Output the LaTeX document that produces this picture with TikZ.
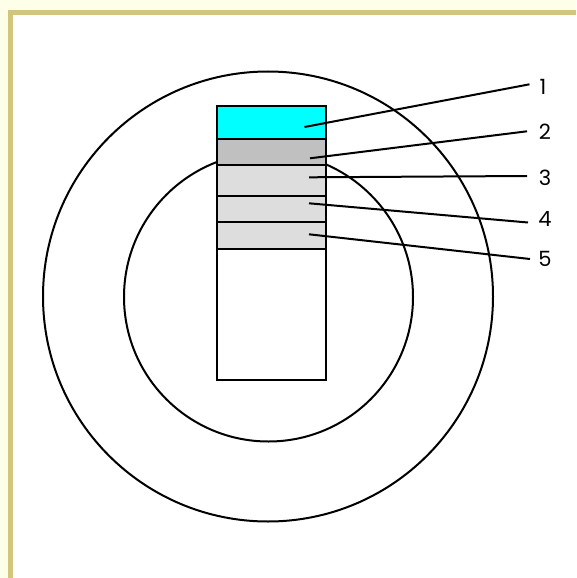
\documentclass[tikz,border=0pt]{standalone}
\usepackage{fontspec}
\setmainfont{Poppins}
\definecolor{bgyel}{HTML}{FDFFE8}
\definecolor{olive}{HTML}{D2C57D}
\definecolor{layerg}{HTML}{C0C0C0}
\definecolor{layerl}{HTML}{DDDDDD}
\definecolor{aqua}{HTML}{00FFFF}
\begin{document}
\begin{tikzpicture}[x=1pt,y=-1pt,
  ring/.style={draw=black,line width=2pt},
  layer/.style={minimum width=109pt,inner sep=0pt,outer sep=0pt,anchor=north west},
  edge/.style={draw=black,line width=2.2pt},
  lead/.style={draw=black,line width=2pt},
  num/.style={font=\fontsize{21}{24}\selectfont,inner sep=0pt}]
\useasboundingbox (0,0) rectangle (576,578);
\fill[bgyel] (0,0) rectangle (576,578);
\fill[olive] (8,10) rectangle (576,578);
\fill[white] (13,15) rectangle (576,578);
% circles
\node[ring,circle,minimum size=450pt,inner sep=0pt] (outer) at (268,296.5) {};
\node[ring,circle,minimum size=289pt,inner sep=0pt] (inner) at (268.5,297) {};
% column
\node[layer,fill=white,minimum height=131pt] (base) at (217,249) {};
\node[layer,fill=layerl,minimum height=26.7pt] (l5) at (217,222.3) {};
\node[layer,fill=layerl,minimum height=26.6pt] (l4) at (217,195.7) {};
\node[layer,fill=layerl,minimum height=30.7pt] (l3) at (217,165) {};
\node[layer,fill=layerg,minimum height=25.7pt] (l2) at (217,139.3) {};
\node[layer,fill=aqua,minimum height=33.6pt] (l1) at (217,105.7) {};
\foreach \n in {base,l5,l4,l3,l2,l1}
  \draw[edge] (\n.north west) rectangle (\n.south east);
% labels
\node[num] (n1) at (543,86.5) {1};
\node[num] (n2) at (545,132) {2};
\node[num] (n3) at (545,177.5) {3};
\node[num] (n4) at (545,218.5) {4};
\node[num] (n5) at (545,258.5) {5};
\coordinate (s1) at (304.5,127);
\coordinate (s2) at (310,158.3);
\coordinate (s3) at (309,177.3);
\coordinate (s4) at (309,203.3);
\coordinate (s5) at (309,234.3);
\coordinate (e1) at (529.5,84.3);
\coordinate (e2) at (527,131.3);
\coordinate (e3) at (527,176);
\coordinate (e4) at (528,222.5);
\coordinate (e5) at (530,259);
\draw[lead] (s1) -- (e1);
\draw[lead] (s2) -- (e2);
\draw[lead] (s3) -- (e3);
\draw[lead] (s4) -- (e4);
\draw[lead] (s5) -- (e5);
\end{tikzpicture}
\end{document}
